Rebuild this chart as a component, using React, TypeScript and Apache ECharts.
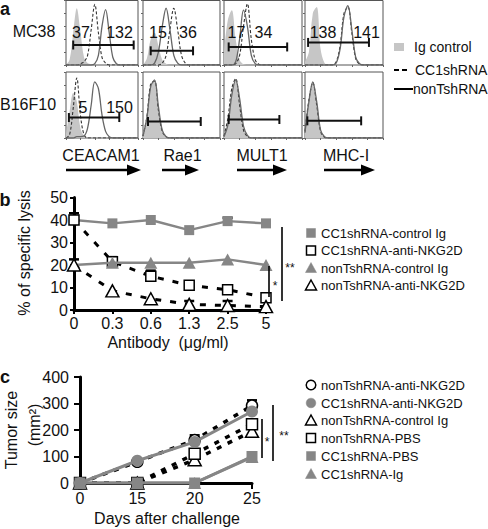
import React, { useEffect, useRef } from "react";
import * as echarts from "echarts";

const FONT = "'Liberation Sans', Arial, Helvetica, sans-serif";

// ---------- Panel a: flow histograms (x = log fluorescence scale 0..100, y = % of max) ----------
const HIST_X = [0, 5, 10, 15, 20, 25, 30, 35, 40, 45, 50, 55, 60, 65, 70, 75, 80, 85, 90, 95, 100];

const MC38_CEACAM1_IG = [0, 8, 50, 88, 52, 12, 3, 1, 0, 0, 0, 0, 0, 0, 0, 0, 0, 0, 0, 0, 0];
const MC38_CEACAM1_CC1 = [0, 0, 0, 0, 2, 5, 15, 55, 94, 50, 12, 3, 0, 0, 0, 0, 0, 0, 0, 0, 0];
const MC38_CEACAM1_NONT = [0, 0, 0, 0, 0, 0, 0, 0, 2, 15, 60, 86, 50, 12, 2, 0, 0, 0, 0, 0, 0];

const MC38_RAE1_IG = [0, 10, 40, 50, 30, 8, 2, 0, 0, 0, 0, 0, 0, 0, 0, 0, 0, 0, 0, 0, 0];
const MC38_RAE1_CC1 = [0, 0, 0, 0, 0, 3, 15, 55, 88, 55, 15, 3, 0, 0, 0, 0, 0, 0, 0, 0, 0];
const MC38_RAE1_NONT = [0, 0, 0, 3, 20, 60, 88, 55, 15, 3, 0, 0, 0, 0, 0, 0, 0, 0, 0, 0, 0];

const MC38_MULT1_IG = [20, 70, 85, 40, 8, 1, 0, 0, 0, 0, 0, 0, 0, 0, 0, 0, 0, 0, 0, 0, 0];
const MC38_MULT1_CC1 = [0, 0, 0, 2, 15, 60, 95, 40, 8, 1, 0, 0, 0, 0, 0, 0, 0, 0, 0, 0, 0];
const MC38_MULT1_NONT = [0, 0, 0, 5, 40, 85, 60, 15, 2, 0, 0, 0, 0, 0, 0, 0, 0, 0, 0, 0, 0];

const MC38_MHCI_IG = [5, 20, 80, 90, 25, 3, 0, 0, 0, 0, 0, 0, 0, 0, 0, 0, 0, 0, 0, 0, 0];
const MC38_MHCI_CC1 = [0, 0, 0, 0, 0, 0, 0, 0, 5, 30, 80, 90, 50, 10, 1, 0, 0, 0, 0, 0, 0];
const MC38_MHCI_NONT = [0, 0, 0, 0, 0, 0, 0, 0, 3, 25, 75, 92, 55, 12, 2, 0, 0, 0, 0, 0, 0];

const B16_CEACAM1_IG = [5, 40, 68, 55, 15, 3, 0, 0, 0, 0, 0, 0, 0, 0, 0, 0, 0, 0, 0, 0, 0];
const B16_CEACAM1_CC1 = [0, 5, 45, 91, 35, 5, 0, 0, 0, 0, 0, 0, 0, 0, 0, 0, 0, 0, 0, 0, 0];
const B16_CEACAM1_NONT = [0, 0, 0, 2, 2, 3, 15, 50, 85, 75, 35, 10, 2, 0, 0, 0, 0, 0, 0, 0, 0];

const B16_RAE1_IG = [5, 35, 80, 88, 45, 10, 2, 0, 0, 0, 0, 0, 0, 0, 0, 0, 0, 0, 0, 0, 0];
const B16_RAE1_CC1 = [3, 32, 82, 86, 42, 10, 2, 0, 0, 0, 0, 0, 0, 0, 0, 0, 0, 0, 0, 0, 0];
const B16_RAE1_NONT = [3, 30, 78, 88, 48, 12, 2, 0, 0, 0, 0, 0, 0, 0, 0, 0, 0, 0, 0, 0, 0];

const B16_MULT1_IG = [3, 25, 70, 89, 55, 15, 3, 0, 0, 0, 0, 0, 0, 0, 0, 0, 0, 0, 0, 0, 0];
const B16_MULT1_CC1 = [3, 30, 75, 90, 50, 12, 2, 0, 0, 0, 0, 0, 0, 0, 0, 0, 0, 0, 0, 0, 0];
const B16_MULT1_NONT = [2, 20, 65, 88, 60, 18, 4, 0, 0, 0, 0, 0, 0, 0, 0, 0, 0, 0, 0, 0, 0];

const B16_MHCI_IG = [10, 60, 85, 50, 10, 1, 0, 0, 0, 0, 0, 0, 0, 0, 0, 0, 0, 0, 0, 0, 0];
const B16_MHCI_CC1 = [10, 58, 84, 50, 10, 1, 0, 0, 0, 0, 0, 0, 0, 0, 0, 0, 0, 0, 0, 0, 0];
const B16_MHCI_NONT = [8, 55, 85, 55, 12, 2, 0, 0, 0, 0, 0, 0, 0, 0, 0, 0, 0, 0, 0, 0, 0];

const HISTS = [
  [MC38_CEACAM1_IG, MC38_CEACAM1_CC1, MC38_CEACAM1_NONT],
  [MC38_RAE1_IG, MC38_RAE1_CC1, MC38_RAE1_NONT],
  [MC38_MULT1_IG, MC38_MULT1_CC1, MC38_MULT1_NONT],
  [MC38_MHCI_IG, MC38_MHCI_CC1, MC38_MHCI_NONT],
  [B16_CEACAM1_IG, B16_CEACAM1_CC1, B16_CEACAM1_NONT],
  [B16_RAE1_IG, B16_RAE1_CC1, B16_RAE1_NONT],
  [B16_MULT1_IG, B16_MULT1_CC1, B16_MULT1_NONT],
  [B16_MHCI_IG, B16_MHCI_CC1, B16_MHCI_NONT],
];

// gate: [start, end, level]
const GATES = [
  [10, 94, 31], [10, 65, 22], [6, 81, 28], [4, 82, 35],
  [4, 74, 31], [6.5, 75, 25], [6, 71, 28], [3, 72, 26],
];
const CELL_LINES = ["MC38", "B16F10"];
const MARKERS = ["CEACAM1", "Rae1", "MULT1", "MHC-I"];
const MFI_VALUES = [["37", "132"], ["15", "36"], ["17", "34"], ["138", "141"], ["5", "150"]];
const A_LEGEND = ["Ig control", "CC1shRNA", "nonTshRNA"];

// ---------- Panel b ----------
const DOSES = ["0", "0.3", "0.6", "1.3", "2.5", "5"];
const B_CC1_CTRL = [40, 38.5, 40, 35.5, 39.5, 38.5];
const B_CC1_ANTI = [40, 21.5, 15, 11, 9, 5.5];
const B_NONT_CTRL = [20, 21, 21, 21, 22.5, 20];
const B_NONT_ANTI = [20, 8.5, 5, 2.5, 2, 1.5];
const B_NAMES = ["CC1shRNA-control Ig", "CC1shRNA-anti-NKG2D", "nonTshRNA-control Ig", "nonTshRNA-anti-NKG2D"];
// upper error bars: [dose index, mean, upper]
const B_ERRORS = [
  [0, 40, 43], [1, 21.5, 23.5], [2, 15, 17.5], [3, 2.5, 4], [4, 2, 4], [4, 39.5, 41], [0, 20, 22.5],
];

// ---------- Panel c ----------
const DAYS = ["0", "15", "20", "25"];
const C_NONT_ANTI = [0, 80, 162, 292];
const C_CC1_ANTI = [0, 84, 155, 270];
const C_NONT_CTRL = [0, 0, 88, 195];
const C_NONT_PBS = [0, 0, 110, 222];
const C_CC1_PBS = [0, 0, 0, 100];
const C_CC1_IG = [0, 0, 0, 98];
const C_NAMES = ["nonTshRNA-anti-NKG2D", "CC1shRNA-anti-NKG2D", "nonTshRNA-control Ig", "nonTshRNA-PBS", "CC1shRNA-PBS", "CC1shRNA-Ig"];
const C_ERRORS = [[2, 162, 180], [3, 292, 312]];

const GRAY = "#868686";
const GRAY_FILL = "#c6c6c6";
const INK = "#111";

const triPath = "path://M50,0 L100,90 L0,90 Z";

function txt(text: string, x: number, y: number, size: number, opts: any = {}) {
  return {
    type: "text",
    x,
    y,
    z: 50,
    rotation: opts.rotation || 0,
    style: {
      text,
      fontSize: size,
      fontFamily: FONT,
      fontWeight: opts.bold ? "bold" : "normal",
      fill: INK,
      align: opts.align || "center",
      verticalAlign: "middle",
    },
  };
}

function legendMarker(kind: string, filled: boolean, cx: number, cy: number) {
  const style = filled
    ? { fill: GRAY, stroke: GRAY, lineWidth: 0.5 }
    : { fill: "#fff", stroke: "#000", lineWidth: 1.5 };
  if (kind === "square") return { type: "rect", z: 50, shape: { x: cx - 4.5, y: cy - 4.5, width: 9, height: 9 }, style };
  if (kind === "circle") return { type: "circle", z: 50, shape: { cx, cy, r: 4.8 }, style };
  return { type: "polygon", z: 50, shape: { points: [[cx, cy - 5.5], [cx + 5.5, cy + 4.5], [cx - 5.5, cy + 4.5]] }, style };
}

function arrow(x1: number, x2: number, y: number) {
  return [
    { type: "line", z: 50, shape: { x1, y1: y, x2: x2 - 12, y2: y }, style: { stroke: "#000", lineWidth: 2.5 } },
    { type: "polygon", z: 50, shape: { points: [[x2 - 14, y - 5.5], [x2, y], [x2 - 14, y + 5.5]] }, style: { fill: "#000" } },
  ];
}

function vline(x: number, y1: number, y2: number) {
  return { type: "line", z: 50, shape: { x1: x, y1, x2: x, y2 }, style: { stroke: "#000", lineWidth: 1.6 } };
}

function errorSeries(xi: number, data: number[][], cap: number) {
  return {
    type: "custom", xAxisIndex: xi, yAxisIndex: xi, z: 2, silent: true,
    data,
    renderItem: (_p: any, api: any) => {
      const a = api.coord([api.value(0), api.value(1)]);
      const b = api.coord([api.value(0), api.value(2)]);
      return {
        type: "group",
        children: [
          { type: "line", shape: { x1: a[0], y1: a[1], x2: b[0], y2: b[1] }, style: { stroke: "#000", lineWidth: 2 } },
          { type: "line", shape: { x1: b[0] - cap, y1: b[1], x2: b[0] + cap, y2: b[1] }, style: { stroke: "#000", lineWidth: 2.5 } },
        ],
      };
    },
  };
}

export default function App() {
  const ref = useRef<HTMLDivElement>(null);

  useEffect(() => {
    document.body.style.margin = "0";
    if (!ref.current) return;
    const chart = echarts.init(ref.current, undefined, { renderer: "svg" });

    const cols = [[66, 138], [143, 220], [224, 302], [305, 383]];
    const rows = [[0.5, 65], [72, 138]];

    const grids: any[] = [];
    const xAxes: any[] = [];
    const yAxes: any[] = [];
    const series: any[] = [];

    for (let i = 0; i < 8; i++) {
      const c = cols[i % 4];
      const r = rows[Math.floor(i / 4)];
      grids.push({
        left: c[0], top: r[0], width: c[1] - c[0], height: r[1] - r[0],
        show: true, borderColor: "#555", borderWidth: 1, containLabel: false,
      });
      xAxes.push({
        gridIndex: i, type: "value", min: 0, max: 100, interval: 20,
        axisLine: { show: false }, axisLabel: { show: false }, splitLine: { show: false },
        axisTick: { show: true, length: 2, lineStyle: { color: "#666", width: 1 } },
      });
      yAxes.push({
        gridIndex: i, type: "value", min: 0, max: 100, interval: 20,
        axisLine: { show: false }, axisLabel: { show: false }, splitLine: { show: false },
        axisTick: { show: true, length: 2, lineStyle: { color: "#666", width: 1 } },
      });
      const [ig, cc1, nont] = HISTS[i];
      series.push({
        type: "line", xAxisIndex: i, yAxisIndex: i, smooth: 0.35, symbol: "none", silent: true,
        data: HIST_X.map((x, k) => [x, ig[k]]),
        lineStyle: { width: 0, color: GRAY_FILL }, areaStyle: { color: GRAY_FILL, opacity: 1 },
      });
      series.push({
        type: "line", xAxisIndex: i, yAxisIndex: i, smooth: 0.35, symbol: "none", silent: true,
        data: HIST_X.map((x, k) => [x, cc1[k]]),
        lineStyle: { width: 1.1, color: "#333", type: [3, 2] },
      });
      series.push({
        type: "line", xAxisIndex: i, yAxisIndex: i, smooth: 0.35, symbol: "none", silent: true,
        data: HIST_X.map((x, k) => [x, nont[k]]),
        lineStyle: { width: 1.3, color: "#666" },
      });
      const g = GATES[i];
      series.push({
        type: "line", xAxisIndex: i, yAxisIndex: i, silent: true, z: 5,
        data: [[g[0], g[2]], [g[1], g[2]]],
        symbol: "rect", symbolSize: [2, 9], showSymbol: true,
        itemStyle: { color: INK }, lineStyle: { color: INK, width: 2 },
      });
    }

    // Panel b grid (index 8)
    grids.push({ left: 74, top: 197.5, width: 192, height: 112.5, containLabel: false });
    xAxes.push({
      gridIndex: 8, type: "category", data: DOSES, boundaryGap: false,
      axisLine: { lineStyle: { color: "#000", width: 3 } },
      axisTick: { length: 4, lineStyle: { color: "#000", width: 2 } },
      axisLabel: { fontSize: 16, fontFamily: FONT, color: INK, margin: 5 },
      splitLine: { show: false },
    });
    yAxes.push({
      gridIndex: 8, type: "value", min: 0, max: 50, interval: 10,
      axisLine: { show: true, lineStyle: { color: "#000", width: 3 } },
      axisTick: { show: true, length: 4, lineStyle: { color: "#000", width: 2 } },
      axisLabel: { fontSize: 16, fontFamily: FONT, color: INK, margin: 6 },
      splitLine: { show: false },
    });

    // Panel c grid (index 9)
    grids.push({ left: 80, top: 377, width: 172, height: 106, containLabel: false });
    xAxes.push({
      gridIndex: 9, type: "category", data: DAYS, boundaryGap: false,
      axisLine: { lineStyle: { color: "#000", width: 3 } },
      axisTick: { length: 6, lineStyle: { color: "#000", width: 2 } },
      axisLabel: { fontSize: 16, fontFamily: FONT, color: INK, margin: 7 },
      splitLine: { show: false },
    });
    yAxes.push({
      gridIndex: 9, type: "value", min: 0, max: 400, interval: 100,
      axisLine: { show: true, lineStyle: { color: "#000", width: 3 } },
      axisTick: { show: true, length: 6, lineStyle: { color: "#000", width: 2 } },
      axisLabel: { fontSize: 16, fontFamily: FONT, color: INK, margin: 11 },
      splitLine: { show: false },
    });

    const dashed = (w: number, d: number[]) => ({ color: "#000", width: w, type: d });
    const solid = (w: number) => ({ color: GRAY, width: w });
    const openStyle = { color: "#fff", borderColor: "#000", borderWidth: 1.5 };
    const fillStyle = { color: GRAY, borderColor: GRAY, borderWidth: 0 };

    series.push(errorSeries(8, B_ERRORS, 5));
    // b series, stacking: gray squares < white squares < gray triangles < white triangles
    series.push({
      name: B_NAMES[0], type: "line", xAxisIndex: 8, yAxisIndex: 8, data: B_CC1_CTRL,
      symbol: "rect", symbolSize: 10, lineStyle: solid(2.5), itemStyle: fillStyle, z: 3,
    });
    series.push({
      name: B_NAMES[1], type: "line", xAxisIndex: 8, yAxisIndex: 8, data: B_CC1_ANTI,
      symbol: "rect", symbolSize: 10, lineStyle: dashed(3, [6, 9]), itemStyle: openStyle, z: 4,
    });
    series.push({
      name: B_NAMES[2], type: "line", xAxisIndex: 8, yAxisIndex: 8, data: B_NONT_CTRL,
      symbol: triPath, symbolSize: [13, 12], lineStyle: solid(2.5), itemStyle: fillStyle, z: 5,
    });
    series.push({
      name: B_NAMES[3], type: "line", xAxisIndex: 8, yAxisIndex: 8, data: B_NONT_ANTI,
      symbol: triPath, symbolSize: [13, 12], lineStyle: dashed(3, [6, 9]), itemStyle: openStyle, z: 6,
    });

    // c series
    series.push(errorSeries(9, C_ERRORS, 5));
    series.push({
      name: C_NAMES[0], type: "line", xAxisIndex: 9, yAxisIndex: 9, data: C_NONT_ANTI,
      symbol: "circle", symbolSize: 11, lineStyle: dashed(3.5, [5, 7]), itemStyle: openStyle, z: 3,
    });
    series.push({
      name: C_NAMES[2], type: "line", xAxisIndex: 9, yAxisIndex: 9, data: C_NONT_CTRL,
      symbol: triPath, symbolSize: [13, 12], lineStyle: dashed(3.5, [5, 7]), itemStyle: openStyle, z: 3,
    });
    series.push({
      name: C_NAMES[3], type: "line", xAxisIndex: 9, yAxisIndex: 9, data: C_NONT_PBS,
      symbol: "rect", symbolSize: 11, lineStyle: dashed(3.5, [5, 7]), itemStyle: openStyle, z: 3,
    });
    series.push({
      name: C_NAMES[5], type: "line", xAxisIndex: 9, yAxisIndex: 9, data: C_CC1_IG,
      symbol: triPath, symbolSize: [13, 12], lineStyle: solid(3), itemStyle: fillStyle, z: 4,
    });
    series.push({
      name: C_NAMES[4], type: "line", xAxisIndex: 9, yAxisIndex: 9, data: C_CC1_PBS,
      symbol: "rect", symbolSize: 11, lineStyle: solid(3), itemStyle: fillStyle, z: 4,
    });
    series.push({
      name: C_NAMES[1], type: "line", xAxisIndex: 9, yAxisIndex: 9, data: C_CC1_ANTI,
      symbol: "circle", symbolSize: 12, lineStyle: solid(3), itemStyle: fillStyle, z: 4,
    });

    // graphic texts & decorations
    const gfx: any[] = [];
    gfx.push(txt("a", 5, 9, 18, { bold: true }));
    gfx.push(txt("b", 5, 200, 18, { bold: true }));
    gfx.push(txt("c", 5, 377, 18, { bold: true }));

    gfx.push(txt(CELL_LINES[0], 34, 31, 16));
    gfx.push(txt(CELL_LINES[1], 28, 104, 16));

    const mfiPos = [
      [[81, 32], [119.5, 32]], [[158, 32], [188, 32]], [[236.5, 32], [263.5, 32]],
      [[323, 32], [366.5, 32]], [[83, 107], [119.5, 107]],
    ];
    MFI_VALUES.forEach((pair, i) => {
      pair.forEach((v, j) => gfx.push(txt(v, mfiPos[i][j][0], mfiPos[i][j][1], 16)));
    });

    const markerX = [101, 182.5, 262, 346];
    MARKERS.forEach((m, i) => gfx.push(txt(m, markerX[i], 155, 16)));
    const arrows = [[66, 141], [162, 199], [237, 287], [324, 375]];
    arrows.forEach((a) => gfx.push(...arrow(a[0], a[1], 170)));

    // panel a legend
    gfx.push({ type: "rect", z: 50, shape: { x: 394, y: 43, width: 10, height: 8 }, style: { fill: GRAY_FILL } });
    gfx.push({ type: "line", z: 50, shape: { x1: 394, y1: 70, x2: 409, y2: 70 }, style: { stroke: "#000", lineWidth: 2, lineDash: [5, 3] } });
    gfx.push({ type: "line", z: 50, shape: { x1: 394, y1: 89, x2: 413, y2: 89 }, style: { stroke: "#000", lineWidth: 2 } });
    gfx.push(txt(A_LEGEND[0], 414, 47, 14, { align: "left" }));
    gfx.push(txt(A_LEGEND[1], 415, 70, 14, { align: "left" }));
    gfx.push(txt(A_LEGEND[2], 413, 89, 14, { align: "left" }));

    // panel b titles
    gfx.push(txt("% of specific lysis", 24, 253, 16, { rotation: Math.PI / 2 }));
    gfx.push(txt("Antibody  (\u03bcg/ml)", 168, 342, 16));
    // panel b legend
    const bKinds = [["square", true], ["square", false], ["triangle", true], ["triangle", false]];
    const bY = [233, 250.5, 268, 285.5];
    B_NAMES.forEach((n, i) => {
      gfx.push(legendMarker(bKinds[i][0] as string, bKinds[i][1] as boolean, 311, bY[i]));
      gfx.push(txt(n, 321, bY[i], 13, { align: "left" }));
    });
    gfx.push(vline(269, 266, 297));
    gfx.push(txt("*", 275, 286, 12));
    gfx.push(vline(282, 227, 301));
    gfx.push(txt("**", 290, 268, 12));

    // panel c titles
    gfx.push(txt("Tumor size", 11, 430, 16, { rotation: Math.PI / 2 }));
    gfx.push(txt("(mm\u00b2)", 34, 425, 16, { rotation: Math.PI / 2 }));
    gfx.push(txt("Days after challenge", 167, 518, 16));
    // panel c legend
    const cKinds = [["circle", false], ["circle", true], ["triangle", false], ["square", false], ["square", true], ["triangle", true]];
    const cY = [385, 403, 420.5, 438, 456, 474];
    C_NAMES.forEach((n, i) => {
      gfx.push(legendMarker(cKinds[i][0] as string, cKinds[i][1] as boolean, 311, cY[i]));
      gfx.push(txt(n, 321, cY[i], 13, { align: "left" }));
    });
    gfx.push(vline(262, 419, 458));
    gfx.push(txt("*", 267, 442, 12));
    gfx.push(vline(273, 405, 461));
    gfx.push(txt("**", 284, 436, 12));

    chart.setOption({
      animation: false,
      backgroundColor: "#fff",
      grid: grids,
      xAxis: xAxes,
      yAxis: yAxes,
      series,
      graphic: { elements: gfx },
    });

    return () => chart.dispose();
  }, []);

  return <div ref={ref} style={{ width: 488, height: 529 }} />;
}
